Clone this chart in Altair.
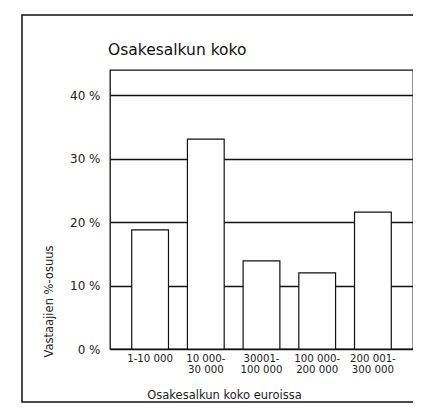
import altair as alt
import pandas as pd

categories = ["1-10 000", "10 000-|30 000", "30001-|100 000", "100 000-|200 000", "200 001-|300 000"]
shares = [18.8, 33.1, 13.9, 12.0, 21.6]
y_ticks = [0, 10, 20, 30, 40]
chart_title = "Osakesalkun koko"

df = pd.DataFrame({"koko": categories, "osuus": shares})

FONT = "DejaVu Sans"

bars = alt.Chart(df).mark_bar(
    fill="white", stroke="#111", strokeWidth=1.2
).encode(
    x=alt.X(
        "koko:N",
        sort=categories,
        scale=alt.Scale(paddingInner=0.34, paddingOuter=0.39),
        axis=alt.Axis(
            title="Osakesalkun koko euroissa",
            labelAngle=0,
            ticks=False,
            domain=False,
            labelPadding=4,
            labelFontSize=10.2,
            labelLineHeight=11.5,
            labelExpr="split(datum.label, '|')",
            labelColor="#222",
            labelOverlap=False,
            titleFontSize=11.5,
            titleFontWeight="normal",
            titleColor="#222",
            titleX=114,
            titleY=49,
            titleAlign="center",
            titleBaseline="alphabetic",
        ),
    ),
    y=alt.Y(
        "osuus:Q",
        scale=alt.Scale(domain=[0, 44], nice=False),
        axis=alt.Axis(
            title="Vastaajien %-osuus",
            values=y_ticks,
            labelExpr="datum.value + ' %'",
            grid=True,
            gridColor="#111",
            gridWidth=1.3,
            gridOpacity=1,
            ticks=False,
            domain=False,
            labelPadding=10,
            labelFontSize=12,
            labelColor="#222",
            titleFontSize=11.5,
            titleFontWeight="normal",
            titleColor="#222",
            titleX=-61,
            titleY=231,
            titleAngle=270,
            titleAlign="center",
            titleBaseline="middle",
        ),
    ),
)

frame = alt.Chart(alt.Data(values=[{}])).mark_rect(
    fill=None, stroke="#111", strokeWidth=1.5
).encode(
    x=alt.value(-88), x2=alt.value(320),
    y=alt.value(-55), y2=alt.value(332),
)

title = alt.Chart(alt.Data(values=[{}])).mark_text(
    align="left", baseline="alphabetic", fontSize=15.5, font=FONT, color="#111"
).encode(
    x=alt.value(-2), y=alt.value(-15), text=alt.value(chart_title)
)

chart = alt.layer(frame, title, bars).properties(
    width=303,
    height=279,
    autosize=alt.AutoSizeParams(type="none"),
    padding={"left": 102, "top": 62, "right": 0, "bottom": 54},
).configure(font=FONT).configure_view(
    stroke="#111", strokeWidth=1.3
)

chart.save("out.html", embed_options={"renderer": "svg", "actions": False})
